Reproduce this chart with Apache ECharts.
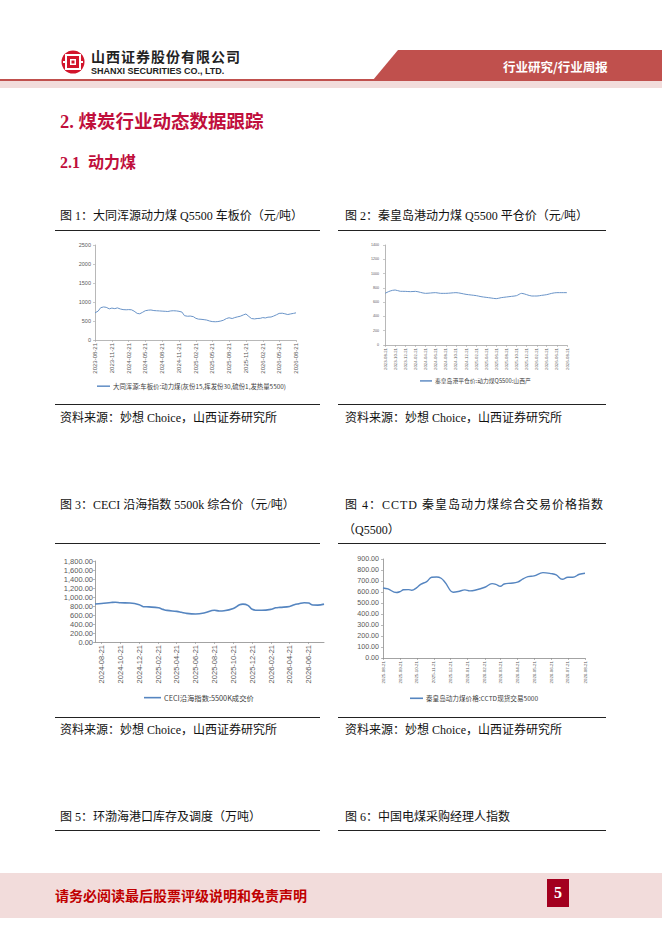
<!DOCTYPE html>
<html>
<head>
<meta charset="utf-8">
<script src="https://cdn.jsdelivr.net/npm/echarts@6/dist/echarts.min.js"></script>
<style>
  body { margin: 0; width: 662px; height: 936px; position: relative; background: #fff; overflow: hidden;
    font-family: "Liberation Serif", "Noto Sans CJK SC", serif; }
  .t { position: absolute; white-space: nowrap; line-height: 1; color: #111; }
  .cap { font-size: 12px; }
  .rule { position: absolute; height: 1px; background: #222; }
  #charts { position: absolute; left: 0; top: 0; width: 662px; height: 936px; }
</style>
</head>
<body>
<!-- header -->
<svg class="t" style="left:61px;top:50px" width="24" height="24" viewBox="0 0 24 24">
  <circle cx="12" cy="12" r="11.5" fill="#d2142b"/>
  <rect x="5" y="5" width="14" height="14" fill="none" stroke="#fff" stroke-width="2"/>
  <rect x="9" y="9" width="6" height="6" fill="#fff"/>
  <rect x="10.5" y="10.5" width="3" height="3" fill="#d2142b"/>
  <rect x="2" y="11" width="3" height="2" fill="#fff"/>
  <rect x="19" y="11" width="3" height="2" fill="#fff"/>
</svg>
<div class="t" style="left:91px;top:49px;font-family:'Noto Sans CJK SC';font-weight:bold;font-size:14px;letter-spacing:1px;color:#222">山西证券股份有限公司</div>
<div class="t" style="left:91px;top:67px;font-family:'Liberation Sans';font-weight:bold;font-size:9px;color:#222">SHANXI SECURITIES CO., LTD.</div>
<div style="position:absolute;left:373px;top:50px;width:289px;height:30px;background:#c0504d;clip-path:polygon(25px 0,100% 0,100% 100%,0 100%)"></div>
<div class="t" style="left:503px;top:61px;font-family:'Noto Sans CJK SC';font-size:12.5px;font-weight:bold;color:#fff">行业研究/行业周报</div>
<div style="position:absolute;left:0;top:79px;width:662px;height:2px;background:#c0504d"></div>
<div style="position:absolute;left:0;top:81px;width:662px;height:7px;background:#f2dcdb"></div>

<!-- headings -->
<div class="t" style="left:60px;top:113px;font-size:18.5px;font-weight:bold;color:#c00f3c">2.&nbsp;煤炭行业动态数据跟踪</div>
<div class="t" style="left:60px;top:155px;font-size:16px;font-weight:bold;color:#c00f3c">2.1&nbsp;&nbsp;动力煤</div>

<!-- captions row 1 -->
<div class="t cap" style="left:60px;top:210px">图 1：大同浑源动力煤 Q5500 车板价（元/吨）</div>
<div class="t cap" style="left:345px;top:210px">图 2：秦皇岛港动力煤 Q5500 平仓价（元/吨）</div>
<div class="rule" style="left:55px;top:230px;width:265px"></div>
<div class="rule" style="left:338px;top:230px;width:268px"></div>
<div class="rule" style="left:55px;top:404px;width:265px"></div>
<div class="rule" style="left:338px;top:404px;width:268px"></div>
<div class="t cap" style="left:60px;top:412px">资料来源：妙想 Choice，山西证券研究所</div>
<div class="t cap" style="left:345px;top:412px">资料来源：妙想 Choice，山西证券研究所</div>

<!-- captions row 2 -->
<div class="t cap" style="left:60px;top:499px">图 3：CECI 沿海指数 5500k 综合价（元/吨）</div>
<div class="t cap" style="left:345px;top:499px;letter-spacing:1px">图 4：CCTD 秦皇岛动力煤综合交易价格指数</div>
<div class="t cap" style="left:343px;top:524px">（Q5500）</div>
<div class="rule" style="left:55px;top:543px;width:265px"></div>
<div class="rule" style="left:338px;top:543px;width:268px"></div>
<div class="rule" style="left:55px;top:717px;width:265px"></div>
<div class="rule" style="left:338px;top:717px;width:268px"></div>
<div class="t cap" style="left:60px;top:724px">资料来源：妙想 Choice，山西证券研究所</div>
<div class="t cap" style="left:345px;top:724px">资料来源：妙想 Choice，山西证券研究所</div>

<!-- captions row 3 -->
<div class="t cap" style="left:60px;top:811px">图 5：环渤海港口库存及调度（万吨）</div>
<div class="t cap" style="left:345px;top:811px">图 6：中国电煤采购经理人指数</div>
<div class="rule" style="left:55px;top:830px;width:265px"></div>
<div class="rule" style="left:338px;top:830px;width:268px"></div>

<!-- footer -->
<div style="position:absolute;left:0;top:873px;width:662px;height:45px;background:#f2dcdb"></div>
<div class="t" style="left:55px;top:888px;font-family:'Noto Sans CJK SC';font-size:14px;font-weight:bold;color:#c00000">请务必阅读最后股票评级说明和免责声明</div>
<div style="position:absolute;left:547px;top:879px;width:22px;height:28px;background:#a3001f;color:#fff;font-weight:bold;font-size:16px;line-height:28px;text-align:center">5</div>

<div id="charts"></div>

<script>
// 图1 大同浑源车板价
const dates1 = ['2023-08-21','2023-09-07','2023-09-21','2023-10-07','2023-10-21','2023-11-07','2023-11-21','2023-12-07','2023-12-21',
  '2024-01-07','2024-01-21','2024-02-07','2024-02-21','2024-03-07','2024-03-21','2024-04-07','2024-04-21','2024-05-07','2024-05-21',
  '2024-06-07','2024-06-21','2024-07-07','2024-07-21','2024-08-07','2024-08-21','2024-09-07','2024-09-21','2024-10-07','2024-10-21',
  '2024-11-07','2024-11-21','2024-12-07','2024-12-21','2025-01-07','2025-01-21','2025-02-07','2025-02-21','2025-03-07','2025-03-21',
  '2025-04-07','2025-04-21','2025-05-07','2025-05-21','2025-06-07','2025-06-21','2025-07-07','2025-07-21','2025-08-07','2025-08-21',
  '2025-09-07','2025-09-21','2025-10-07','2025-10-21','2025-11-07','2025-11-21','2025-12-07','2025-12-21','2026-01-07','2026-01-21',
  '2026-02-07','2026-02-21','2026-03-07','2026-03-21','2026-04-07','2026-04-21','2026-05-07','2026-05-21','2026-06-07','2026-06-21',
  '2026-07-07','2026-07-21','2026-08-07','2026-08-21'];
const vals1 = [715,760,850,870,860,820,840,825,845,
  815,800,795,800,795,760,700,690,730,770,
  785,790,775,770,765,760,755,750,765,770,
  765,755,735,640,625,630,615,570,550,545,
  535,525,500,485,480,485,500,520,565,585,
  565,590,610,625,660,685,620,565,555,565,
  570,590,580,600,605,630,665,700,705,690,
  670,685,700,715];
const ticks1 = ['2023-08-21','2023-11-21','2024-02-21','2024-05-21','2024-08-21','2024-11-21','2025-02-21',
  '2025-05-21','2025-08-21','2025-11-21','2026-02-21','2026-05-21','2026-08-21'];

// 图2 秦皇岛港平仓价
const dates2 = ['2023-08-21','2023-09-21','2023-10-21','2023-11-21','2023-12-21','2024-01-21','2024-02-21','2024-03-21','2024-04-21',
  '2024-05-21','2024-06-21','2024-07-21','2024-08-21','2024-09-21','2024-10-21','2024-11-21','2024-12-21','2025-01-21','2025-02-21',
  '2025-03-21','2025-04-21','2025-05-21','2025-06-21','2025-07-21','2025-08-21','2025-09-21','2025-10-21','2025-11-21','2025-12-21',
  '2026-01-21','2026-02-21','2026-03-21','2026-04-21','2026-05-21','2026-06-21','2026-07-21','2026-08-21'];
const vals2 = [723,756,770,752,751,747,751,737,723,
  728,733,723,723,728,733,723,709,700,691,
  677,667,658,649,663,672,681,691,723,705,
  686,686,695,705,723,733,733,733];
const ticks2 = ['2023-08-21','2023-10-21','2023-12-21','2024-02-21','2024-04-21','2024-06-21','2024-08-21','2024-10-21',
  '2024-12-21','2025-02-21','2025-04-21','2025-06-21','2025-08-21','2025-10-21','2025-12-21','2026-02-21','2026-04-21',
  '2026-06-21','2026-08-21'];

// 图3 CECI沿海指数
const dates3 = ['2024-07-31','2024-08-21','2024-09-21','2024-10-05','2024-10-21','2024-11-21','2024-12-21','2025-01-03','2025-01-21',
  '2025-02-21','2025-03-08','2025-03-21','2025-04-21','2025-05-06','2025-05-21','2025-06-21','2025-07-21','2025-08-21','2025-09-06',
  '2025-09-21','2025-10-21','2025-11-10','2025-11-21','2025-12-07','2025-12-21','2026-01-08','2026-01-21','2026-02-21','2026-03-07',
  '2026-03-21','2026-04-21','2026-05-06','2026-05-21','2026-06-07','2026-06-21','2026-07-05','2026-07-21','2026-08-10'];
const vals3 = [845,855,878,885,872,865,828,785,780,
  760,725,702,680,660,638,622,648,705,690,
  695,745,828,842,815,726,704,704,728,760,
  770,790,828,850,872,865,822,820,842];
const ticks3 = ['2024-08-21','2024-10-21','2024-12-21','2025-02-21','2025-04-21','2025-06-21','2025-08-21','2025-10-21',
  '2025-12-21','2026-02-21','2026-04-21','2026-06-21'];

// 图4 CCTD秦皇岛动力煤
const dates4 = ['2025-08-21','2025-08-30','2025-09-14','2025-09-21','2025-09-27','2025-10-06','2025-10-12','2025-10-21','2025-10-28',
  '2025-11-08','2025-11-17','2025-11-26','2025-12-04','2025-12-11','2025-12-26','2026-01-04','2026-01-16','2026-01-25','2026-02-03',
  '2026-02-21','2026-03-06','2026-03-13','2026-03-21','2026-03-28','2026-04-09','2026-04-21','2026-05-01','2026-05-10','2026-05-21',
  '2026-06-06','2026-06-21','2026-06-30','2026-07-11','2026-07-21','2026-07-30','2026-08-11','2026-08-21'];
const vals4 = [637,628,595,604,620,622,616,640,670,
  695,734,737,725,689,598,604,619,610,616,
  643,676,670,652,673,680,689,719,740,746,
  776,767,755,716,734,734,761,770];
const ticks4 = ['2025-08-21','2025-09-21','2025-10-21','2025-11-21','2025-12-21','2026-01-21','2026-02-21','2026-03-21',
  '2026-04-21','2026-05-21','2026-06-21','2026-07-21','2026-08-21'];

const names = ['大同浑源:车板价:动力煤(灰份15,挥发份30,硫份1,发热量5500)', '秦皇岛港平仓价:动力煤Q5500:山西产',
  'CECI沿海指数:5500K成交价', '秦皇岛动力煤价格:CCTD现货交易5000'];

// dates are turned into day numbers so a plain value axis can carry them
const day = s => { const p = s.split('-'); return Date.UTC(+p[0], +p[1] - 1, +p[2]) / 86400000; };
const pad = n => (n < 10 ? '0' : '') + n;
const fmtDate = v => { const d = new Date(Math.round(v) * 86400000);
  return d.getUTCFullYear() + '-' + pad(d.getUTCMonth() + 1) + '-' + pad(d.getUTCDate()); };
const plain = v => String(v);
const money = v => echarts.format.addCommas(v.toFixed(2));
const pairs = (d, v) => d.map((s, i) => [day(s), v[i]]);

function xAxisOf(grid, min, max, ticks, fs, color) {
  const tv = ticks.map(day);
  return {
    type: 'value', gridIndex: grid, min: day(min), max: day(max), scale: true,
    axisLine: { lineStyle: { color: color, width: 0.8 } },
    axisTick: { customValues: tv, length: 2, lineStyle: { color: color, width: 0.6 } },
    axisLabel: { customValues: tv, rotate: 90, fontSize: fs, color: '#595959', margin: 3, formatter: fmtDate,
      fontFamily: 'Liberation Sans' },
    splitLine: { show: false }
  };
}
function yAxisOf(grid, max, step, fs, color, fmt, margin) {
  return {
    type: 'value', gridIndex: grid, min: 0, max: max, interval: step,
    axisLine: { show: true, lineStyle: { color: color, width: 0.8 } },
    axisTick: { show: true, length: 2, lineStyle: { color: color, width: 0.6 } },
    axisLabel: { fontSize: fs, color: '#595959', margin: margin, formatter: fmt, fontFamily: 'Liberation Sans' },
    splitLine: { show: false }
  };
}
function legendOf(name, left, top, fs, w) {
  return { data: [{ name: name, icon: 'rect' }], left: left, top: top, padding: 0, itemWidth: w, itemHeight: 1.6, itemGap: 0,
    textStyle: { fontSize: fs, color: '#404040', fontFamily: 'Noto Sans CJK SC', padding: [0, 0, 0, -2] } };
}
function lineOf(i, data, color, width, smooth) {
  return { name: names[i], type: 'line', xAxisIndex: i, yAxisIndex: i, data: data, symbol: 'none', smooth: smooth,
    lineStyle: { color: color, width: width }, itemStyle: { color: color } };
}

const chart = echarts.init(document.getElementById('charts'), null, { renderer: 'svg' });
chart.setOption({
  animation: false,
  grid: [
    { left: 95, top: 245, width: 201, height: 95, outerBoundsMode: 'none' },
    { left: 385, top: 245, width: 182, height: 100, outerBoundsMode: 'none' },
    { left: 95, top: 561, width: 229, height: 81, outerBoundsMode: 'none' },
    { left: 383, top: 559, width: 202, height: 99, outerBoundsMode: 'none' }
  ],
  xAxis: [
    xAxisOf(0, '2023-08-21', '2026-08-21', ticks1, 6, '#a6a6a6'),
    xAxisOf(1, '2023-08-21', '2026-08-21', ticks2, 4.3, '#a6a6a6'),
    xAxisOf(2, '2024-07-31', '2026-08-10', ticks3, 7.5, '#8c8c8c'),
    xAxisOf(3, '2025-08-21', '2026-08-21', ticks4, 4.4, '#8c8c8c')
  ],
  yAxis: [
    yAxisOf(0, 2500, 500, 5.5, '#a6a6a6', plain, 4),
    yAxisOf(1, 1400, 200, 3.6, '#a6a6a6', plain, 6),
    yAxisOf(2, 1800, 200, 7.5, '#8c8c8c', money, 2),
    yAxisOf(3, 900, 100, 7.1, '#8c8c8c', money, 4)
  ],
  legend: [
    legendOf(names[0], 97, 383, 6.4, 13),
    legendOf(names[1], 420, 378, 5.8, 12),
    legendOf(names[2], 144, 694, 7.3, 17),
    legendOf(names[3], 410, 695, 6.6, 13)
  ],
  series: [
    lineOf(0, pairs(dates1, vals1), '#6a94c8', 1, false),
    lineOf(1, pairs(dates2, vals2), '#6a94c8', 1, 0.3),
    lineOf(2, pairs(dates3, vals3), '#5585c0', 1.6, 0.4),
    lineOf(3, pairs(dates4, vals4), '#5585c0', 1.4, 0.4)
  ]
});
</script>
</body>
</html>
